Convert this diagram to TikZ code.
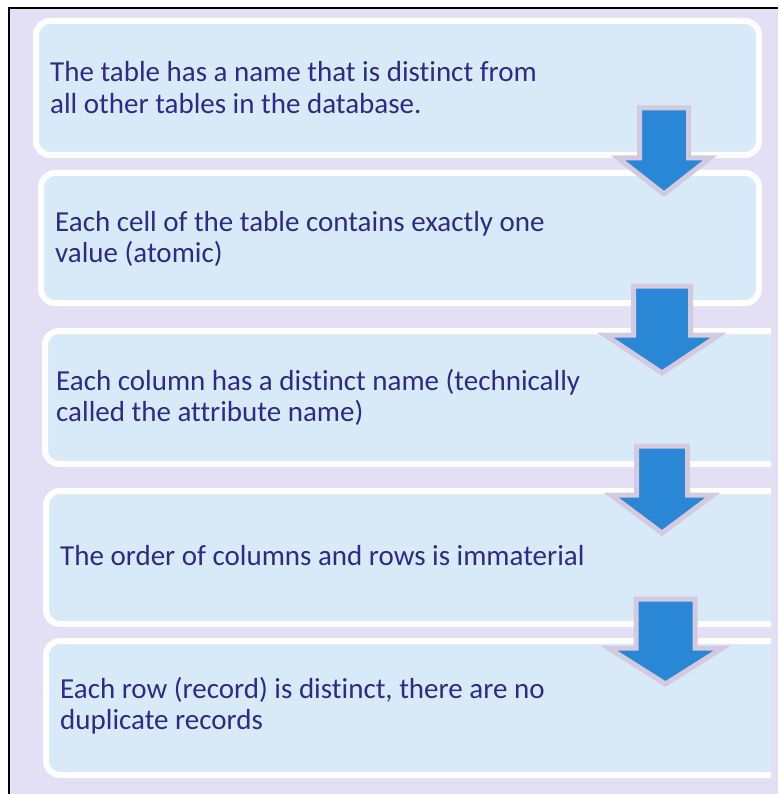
\documentclass[tikz,border=0pt]{standalone}
\usepackage{fontspec}
\setmainfont{Carlito}[Ligatures=NoCommon]

\definecolor{panelbg}{HTML}{E3DFF4}
\definecolor{cardfill}{HTML}{D8EAF8}
\definecolor{cardink}{HTML}{2E2A86}
\definecolor{flowblue}{HTML}{2A87D6}
\definecolor{flowedge}{HTML}{D4CADF}

\tikzset{
  card/.style={draw=white, line width=6pt, fill=cardfill, rounded corners=14pt,
               anchor=north west, outer sep=0pt, inner sep=0pt},
  cardlabel/.style={anchor=west, align=left, text=cardink, inner sep=0pt,
                    font=\fontsize{29}{31.5}\selectfont},
  flowarrow/.style={fill=flowblue, draw=flowedge, line width=5pt, line join=miter},
}

% block arrow: {centre x}{top}{shaft half width}{head half width}{head base}{tip}
\newcommand\flowdown[6]{%
  \draw[flowarrow] ({#1-#3},#2) -- ({#1+#3},#2) -- ({#1+#3},#5) -- ({#1+#4},#5)
    -- (#1,#6) -- ({#1-#4},#5) -- ({#1-#3},#5) -- cycle;}

\begin{document}
\begin{tikzpicture}[x=1pt,y=-1pt]
  \useasboundingbox (0,0) rectangle (778,794);
  \fill[white] (0,0) rectangle (778,794);
  \fill[panelbg] (9,8) rectangle (778,794);
  \draw[black, line width=1.5pt] (9,794) -- (9,8) -- (778,8);

  \begin{scope}
    \clip (0,0) rectangle (771,794);
    \node[card, minimum width=723pt, minimum height=134pt] (c1) at (36,21) {};
    \node[card, minimum width=718pt, minimum height=130pt] (c2) at (41,173) {};
    \node[card, minimum width=760pt, minimum height=133pt] (c3) at (45,331) {};
    \node[card, minimum width=760pt, minimum height=133pt] (c4) at (46,491) {};
    \node[card, minimum width=760pt, minimum height=134pt] (c5) at (46,641) {};
  \end{scope}

  \node[cardlabel] (t1) at (50,87.5) {The table has a name that is distinct from\\all other tables in the database.};
  \node[cardlabel] (t2) at (55,239) {Each cell of the table contains exactly one\\value (atomic)};
  \node[cardlabel] (t3) at (56,397.5) {Each column has a distinct name (technically\\called the attribute name)};
  \node[cardlabel] (t4) at (60,556) {The order of columns and rows is immaterial};
  \node[cardlabel] (t5) at (60,705.5) {Each row (record) is distinct, there are no\\duplicate records};

  \flowdown{664}{108}{24.5}{46}{158}{194}
  \flowdown{662}{286}{28.5}{57}{335}{373}
  \flowdown{662}{446}{25.5}{51}{495}{533}
  \flowdown{665.5}{599}{29.5}{57}{648}{684}
\end{tikzpicture}
\end{document}
